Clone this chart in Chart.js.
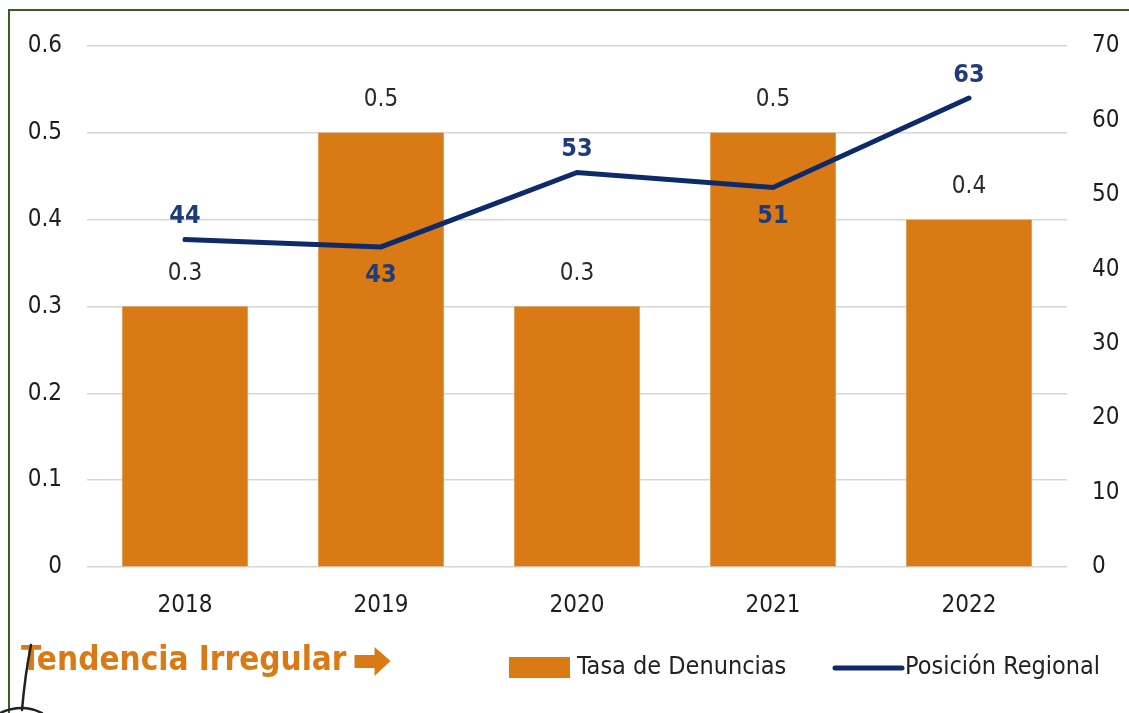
<!DOCTYPE html>
<html>
<head>
<meta charset="utf-8">
<script src="https://cdn.jsdelivr.net/npm/chart.js@4/dist/chart.umd.min.js"></script>
<style>
  html, body { margin: 0; padding: 0; background: #fff; }
  #wrap { width: 1129px; height: 713px; position: relative; }
</style>
</head>
<body>
<div id="wrap"><canvas id="c" width="1129" height="713"></canvas></div>
<script>
const categories = ['2018', '2019', '2020', '2021', '2022'];
const tasaDenuncias = [0.3, 0.5, 0.3, 0.5, 0.4];
const posicionRegional = [44, 43, 53, 51, 63];
const seriesNames = ['Tasa de Denuncias', 'Posición Regional'];
const lineLabelSide = ['above', 'below', 'above', 'below', 'above'];
const footerText = 'Tendencia Irregular';

const FONT = '"Liberation Sans Narrow", "DejaVu Sans Condensed", "Liberation Sans", sans-serif';
const ORANGE = '#D97A14';
const NAVY = '#0D2A6A';
const NAVY_TXT = '#1F3C7A';

const decorPlugin = {
  id: 'decor',
  afterDatasetsDraw(chart) {
    const ctx = chart.ctx;
    ctx.save();
    const barMeta = chart.getDatasetMeta(0);
    ctx.font = '24px ' + FONT;
    ctx.fillStyle = '#2b2b2b';
    ctx.textAlign = 'center';
    ctx.textBaseline = 'middle';
    barMeta.data.forEach((el, i) => {
      ctx.fillText(String(tasaDenuncias[i]), el.x, el.y - 33);
    });
    const lineMeta = chart.getDatasetMeta(1);
    ctx.font = 'bold 25px ' + FONT;
    ctx.fillStyle = NAVY_TXT;
    lineMeta.data.forEach((el, i) => {
      const dy = lineLabelSide[i] === 'above' ? -23 : 29;
      ctx.fillText(String(posicionRegional[i]), el.x, el.y + dy);
    });
    ctx.restore();
  },
  afterDraw(chart) {
    const ctx = chart.ctx;
    ctx.save();
    // legend
    ctx.fillStyle = ORANGE;
    ctx.fillRect(509, 657, 61, 21);
    ctx.font = '25px ' + FONT;
    ctx.fillStyle = '#222222';
    ctx.textAlign = 'left';
    ctx.textBaseline = 'middle';
    ctx.fillText(seriesNames[0], 577, 667);
    ctx.strokeStyle = NAVY;
    ctx.lineWidth = 5;
    ctx.lineCap = 'round';
    ctx.beginPath();
    ctx.moveTo(835, 668);
    ctx.lineTo(902, 668);
    ctx.stroke();
    ctx.fillText(seriesNames[1], 905, 667);
    // footer
    ctx.font = 'bold 33px ' + FONT;
    ctx.fillStyle = ORANGE;
    ctx.fillText(footerText, 21, 661);
    const ax = 21 + ctx.measureText(footerText).width + 8;
    // block arrow
    ctx.beginPath();
    ctx.moveTo(ax, 655);
    ctx.lineTo(ax + 20, 655);
    ctx.lineTo(ax + 20, 647);
    ctx.lineTo(ax + 36, 661);
    ctx.lineTo(ax + 20, 676);
    ctx.lineTo(ax + 20, 668);
    ctx.lineTo(ax, 668);
    ctx.closePath();
    ctx.fill();
    // green frame
    ctx.strokeStyle = '#3B5E20';
    ctx.lineWidth = 2;
    ctx.lineCap = 'butt';
    ctx.beginPath();
    ctx.moveTo(9, 713);
    ctx.lineTo(9, 10);
    ctx.lineTo(1129, 10);
    ctx.stroke();
    // hand-drawn mark
    ctx.strokeStyle = '#222222';
    ctx.lineWidth = 2.5;
    ctx.lineCap = 'round';
    ctx.beginPath();
    ctx.moveTo(31, 645);
    ctx.quadraticCurveTo(25, 675, 22, 710);
    ctx.stroke();
    ctx.beginPath();
    ctx.moveTo(0, 713);
    ctx.quadraticCurveTo(22, 703, 42, 713);
    ctx.stroke();
    ctx.restore();
  }
};

new Chart(document.getElementById('c'), {
  data: {
    labels: categories,
    datasets: [
      {
        type: 'bar',
        label: seriesNames[0],
        data: tasaDenuncias,
        backgroundColor: ORANGE,
        borderWidth: 0,
        barPercentage: 0.64,
        categoryPercentage: 1.0,
        yAxisID: 'y',
        order: 2
      },
      {
        type: 'line',
        label: seriesNames[1],
        data: posicionRegional,
        borderColor: NAVY,
        borderWidth: 5,
        pointRadius: 0,
        tension: 0,
        borderCapStyle: 'round',
        yAxisID: 'y1',
        order: 1
      }
    ]
  },
  options: {
    responsive: false,
    animation: false,
    devicePixelRatio: 1,
    layout: { padding: { left: 0, right: 0, top: 46, bottom: 0 } },
    plugins: { legend: { display: false }, tooltip: { enabled: false } },
    scales: {
      x: {
        grid: { display: false, drawTicks: false },
        border: { display: false },
        ticks: { font: { family: FONT, size: 24 }, color: '#1e1e1e', padding: 24 },
        afterFit: s => { s.height = 146; }
      },
      y: {
        position: 'left',
        min: 0, max: 0.6,
        grid: { color: '#D6D6D6', lineWidth: 1.5, drawTicks: false },
        border: { display: false },
        ticks: {
          stepSize: 0.1,
          padding: 25,
          font: { family: FONT, size: 24 },
          color: '#1e1e1e',
          callback: v => (Math.abs(v) < 1e-9 ? '0' : v.toFixed(1))
        },
        afterFit: s => { s.width = 87; }
      },
      y1: {
        position: 'right',
        min: 0, max: 70,
        grid: { display: false, drawTicks: false },
        border: { display: false },
        ticks: {
          stepSize: 10,
          padding: 25,
          font: { family: FONT, size: 24 },
          color: '#1e1e1e'
        },
        afterFit: s => { s.width = 62; }
      }
    }
  },
  plugins: [decorPlugin]
});
</script>
</body>
</html>
